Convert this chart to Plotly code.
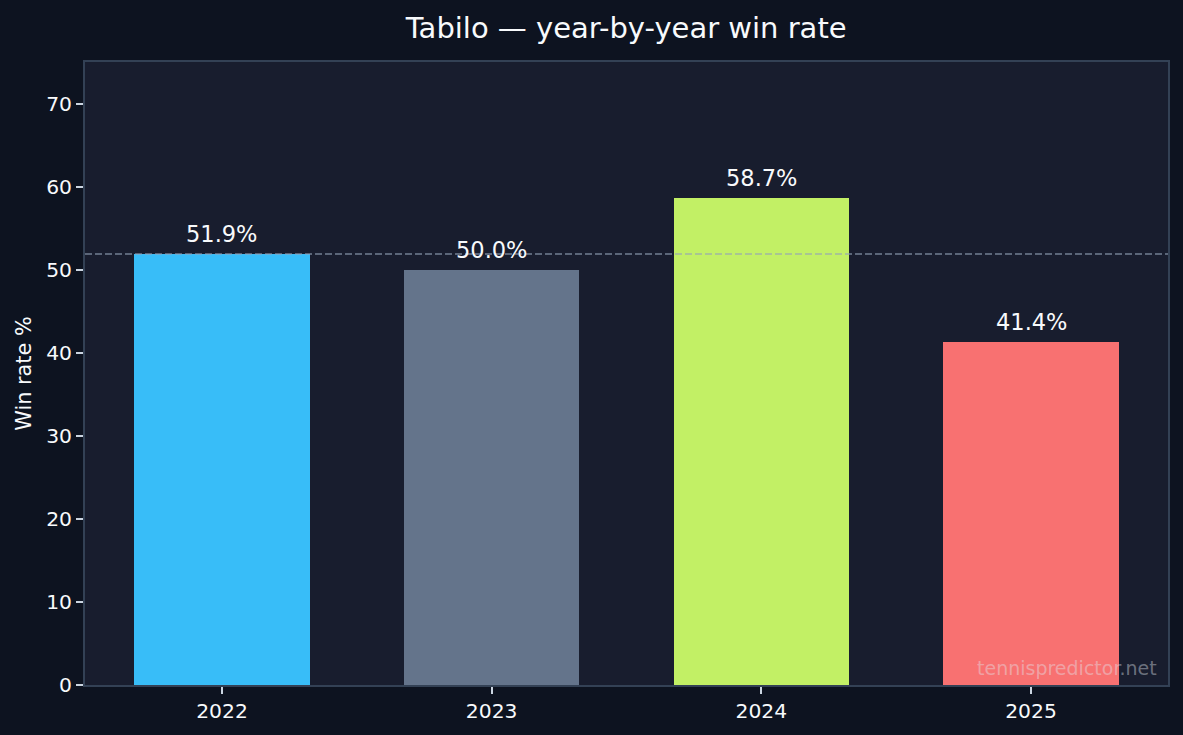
import plotly.graph_objects as go

years = ["2022", "2023", "2024", "2025"]
win_rates = [51.9, 50.0, 58.7, 41.4]
bar_colors = ["#38bdf8", "#64748b", "#c2f065", "#f87171"]
avg_rate = 51.97
title_text = "Tabilo — year-by-year win rate"
y_label = "Win rate %"
y_ticks = [0, 10, 20, 30, 40, 50, 60, 70]
watermark = "tennispredictor.net"

FONT = "DejaVu Sans"
TEXT = "#f8fafc"
SPINE = "#334155"

fig = go.Figure()
fig.add_trace(go.Bar(
    x=list(range(len(years))),
    y=win_rates,
    marker=dict(color=bar_colors, line=dict(width=0)),
    width=0.65,
    hoverinfo="skip",
))

# average dashed line (drawn over bars)
fig.add_shape(type="line", xref="paper", yref="y", x0=0, x1=1, y0=avg_rate, y1=avg_rate,
              line=dict(color="rgba(148,163,184,0.55)", width=2, dash="7px,3px"), layer="above")

for i, v in enumerate(win_rates):
    fig.add_annotation(x=i, y=v, xref="x", yref="y", text=f"{v:.1f}%", showarrow=False,
                       yanchor="middle", yshift=20,
                       font=dict(family=FONT, size=22.5, color=TEXT))

fig.add_annotation(xref="paper", yref="paper", x=0.9915, y=0.027, xanchor="right", yanchor="middle",
                   text=watermark, showarrow=False,
                   font=dict(family=FONT, size=19, color="rgba(226,232,240,0.42)"))

fig.update_layout(
    width=1183, height=735,
    margin=dict(l=85, r=15, t=62, b=50),
    paper_bgcolor="#0d1320",
    plot_bgcolor="#181d2e",
    showlegend=False,
    bargap=0,
    title=dict(text=title_text, x=0.5293, xanchor="center", y=1 - 28 / 735, yanchor="middle",
               font=dict(family=FONT, size=29, color=TEXT)),
    font=dict(family=FONT, color=TEXT),
)
fig.update_xaxes(
    range=[-0.508, 3.508], tickmode="array", tickvals=list(range(len(years))), ticktext=years,
    showgrid=False, zeroline=False, showline=True, linecolor=SPINE, linewidth=2, mirror=True,
    ticks="outside", ticklen=7, tickwidth=2, tickcolor="#cbd5e1",
    tickfont=dict(family=FONT, size=20.3, color=TEXT), fixedrange=True,
)
fig.update_yaxes(
    range=[0, 75.1], tickmode="array", tickvals=y_ticks,
    showgrid=False, zeroline=False, showline=True, linecolor=SPINE, linewidth=2, mirror=True,
    ticks="outside", ticklen=7, tickwidth=2, tickcolor="#cbd5e1",
    tickfont=dict(family=FONT, size=20.3, color=TEXT),
    title=dict(text=y_label, font=dict(family=FONT, size=20.8, color=TEXT), standoff=9),
    fixedrange=True,
)

fig.write_html("out.html")
